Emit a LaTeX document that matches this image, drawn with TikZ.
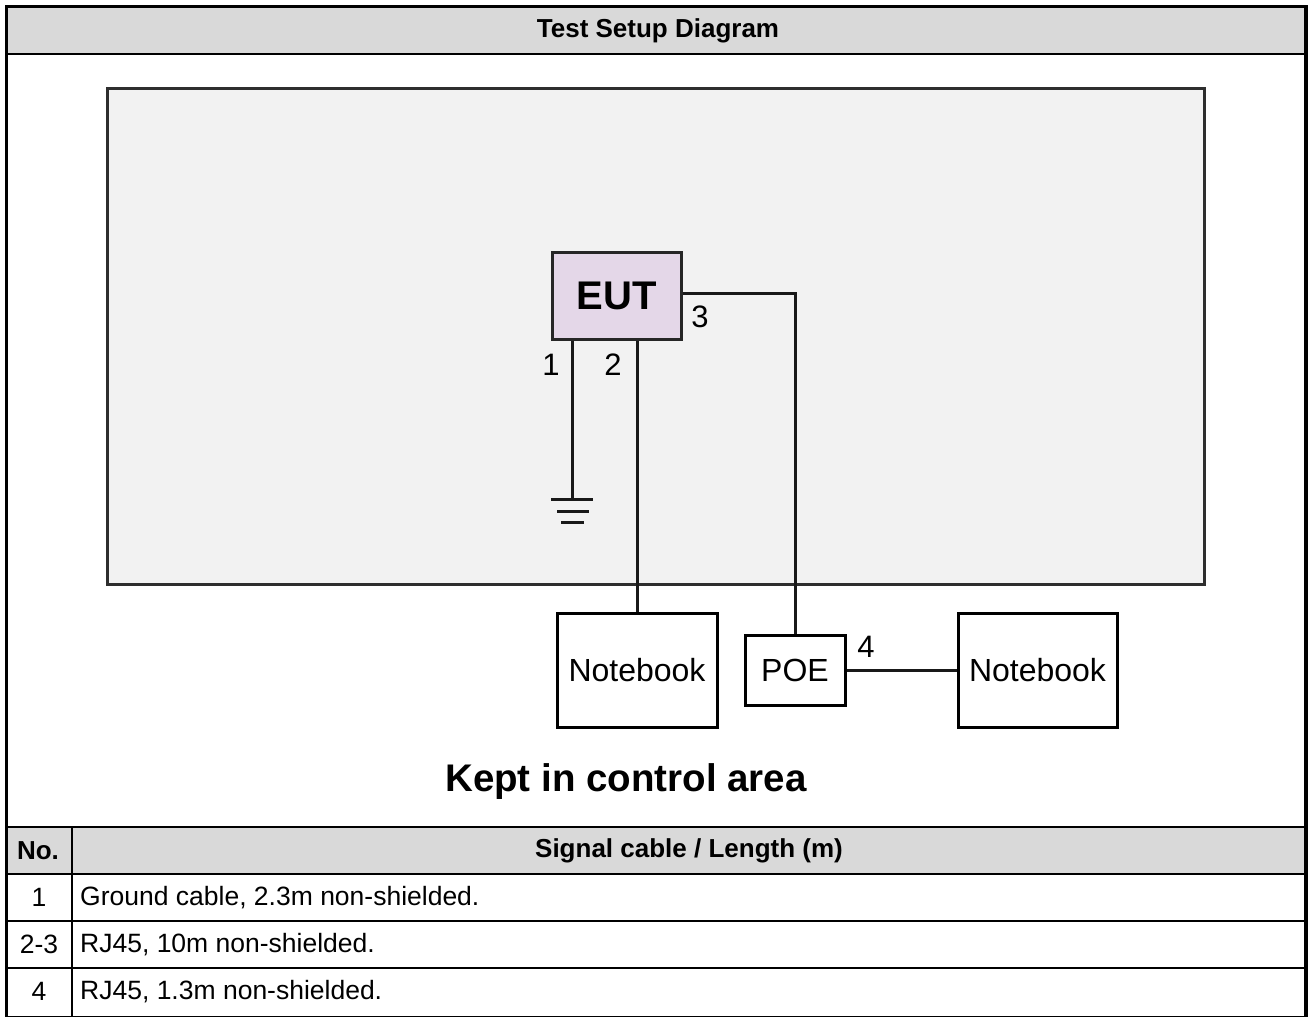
\documentclass[tikz,border=0pt]{standalone}
\usepackage{fontspec}
\setmainfont{Liberation Sans}
\definecolor{hdrgrey}{HTML}{D9D9D9}
\definecolor{areagrey}{HTML}{F2F2F2}
\definecolor{eutfill}{HTML}{E4D7E8}
\definecolor{areaedge}{HTML}{2E2E2E}
\tikzset{
  x=1pt, y=-1pt,
  device/.style={draw=black, line width=3pt, fill=white, inner sep=0pt, font=\fontsize{32}{36}\selectfont},
  eutbox/.style={draw=black!85, line width=3pt, fill=eutfill, inner sep=0pt, font=\bfseries\fontsize{40}{44}\selectfont},
  cable/.style={draw=black!90, line width=3pt},
  cablelabel/.style={inner sep=0pt, font=\fontsize{31}{34}\selectfont},
  hdrtext/.style={inner sep=0pt, font=\bfseries\fontsize{26}{30}\selectfont},
  celltext/.style={inner sep=0pt, font=\fontsize{26.5}{30}\selectfont},
  rule/.style={line width=2.5pt, draw=black},
}
\begin{document}
\begin{tikzpicture}
\useasboundingbox (0,0) rectangle (1309,1017);
% title band
\fill[hdrgrey] (6,6) rectangle (1306,54);
\node[hdrtext] (title) at (658,31) {Test Setup Diagram};
\draw[rule] (6,54) -- (1306,54);
% test area
\node[draw=areaedge, line width=3pt, fill=areagrey, minimum width=1097pt, minimum height=496pt, inner sep=0pt] (area) at (655.5,336) {};
% devices
\node[eutbox, minimum width=129pt, minimum height=87pt] (eut) at (616.5,295.5) {EUT};
\node[device, minimum width=160pt, minimum height=114pt] (nb1) at (637,670) {Notebook};
\node[device, minimum width=100pt, minimum height=70pt] (poe) at (795,670) {POE};
\node[device, minimum width=159pt, minimum height=114pt] (nb2) at (1037.5,670) {Notebook};
% ground
\coordinate (gnd) at (572,499);
\draw[cable] (eut.south -| gnd) -- (gnd);
\draw[cable] ([xshift=-21pt]gnd) -- ([xshift=21pt]gnd);
\draw[cable] ([xshift=-15pt,yshift=-12pt]gnd) -- ([xshift=17pt,yshift=-12pt]gnd);
\draw[cable] ([xshift=-11pt,yshift=-23pt]gnd) -- ([xshift=12pt,yshift=-23pt]gnd);
% cables
\draw[cable] (eut.south -| nb1.north) -- (nb1.north);
\draw[cable] ([yshift=2.5pt]eut.east) -| (poe.north);
\draw[cable] (poe.east) -- (nb2.west);
% cable labels
\node[cablelabel] (l1) at (551,365) {1};
\node[cablelabel] (l2) at (613,365) {2};
\node[cablelabel] (l3) at (700,317) {3};
\node[cablelabel] (l4) at (866,647) {4};
% caption
\node[inner sep=0pt, font=\bfseries\fontsize{38.5}{42}\selectfont] (cap) at (626,782) {Kept in control area};
% table
\fill[hdrgrey] (6,827) rectangle (1306,874);
\draw[rule] (6,827) -- (1306,827);
\draw[rule] (6,874) -- (1306,874);
\draw[rule] (6,921) -- (1306,921);
\draw[rule] (6,968) -- (1306,968);
\draw[line width=1pt] (6,1016.5) -- (1306,1016.5);
\draw[line width=2pt] (72,827) -- (72,1017);
\node[hdrtext] (hno) at (38,850.5) {No.};
\node[hdrtext] (hsig) at (689,850.5) {Signal cable / Length (m)};
\node[celltext] (n1) at (39,897.5) {1};
\node[celltext] (n2) at (39,944.5) {2-3};
\node[celltext] (n3) at (39,991.5) {4};
\node[celltext, anchor=west] (t1) at (80,897.5) {Ground cable, 2.3m non-shielded.};
\node[celltext, anchor=west] (t2) at (80,944.5) {RJ45, 10m non-shielded.};
\node[celltext, anchor=west] (t3) at (80,991.5) {RJ45, 1.3m non-shielded.};
% outer frame
\draw[line width=3.5pt] (6.5,1017) -- (6.5,6.5) -- (1306,6.5) -- (1306,1017);
\end{tikzpicture}
\end{document}
